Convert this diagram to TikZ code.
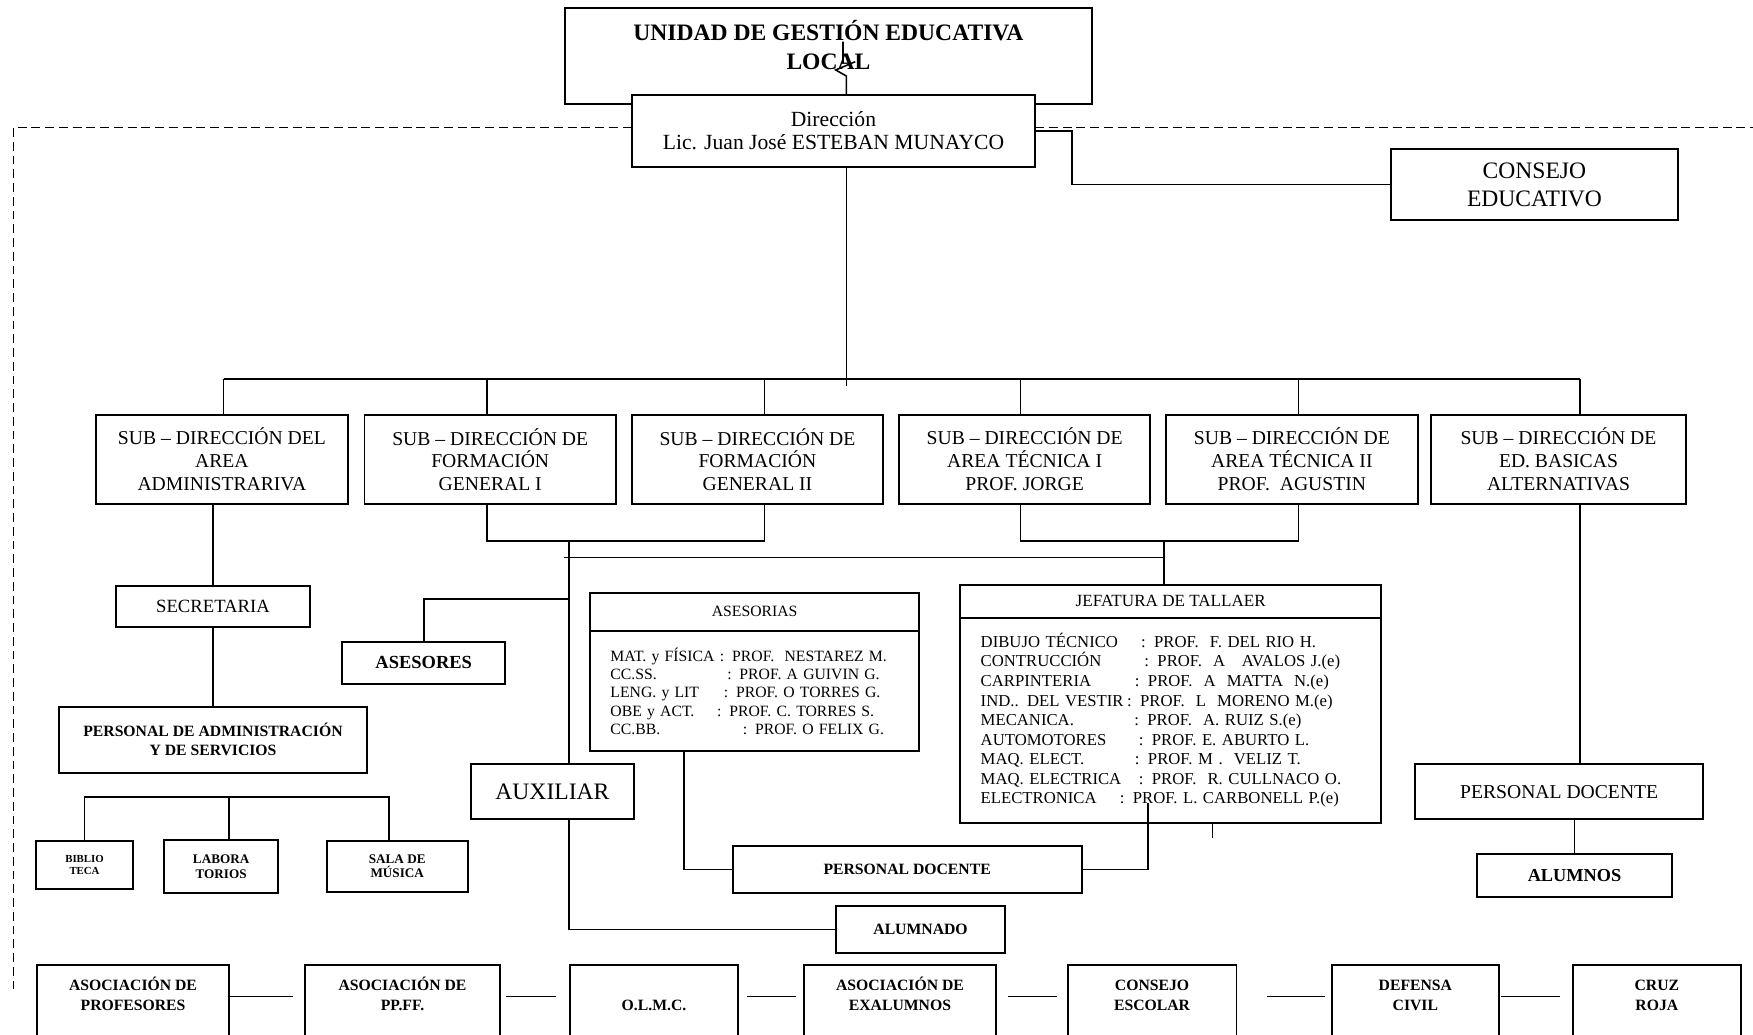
\documentclass[tikz,border=0pt]{standalone}
\usepackage{fontspec}
\setmainfont{Liberation Serif}
\usetikzlibrary{positioning}

\begin{document}
\begin{tikzpicture}[x=0.02cm, y=-0.02cm,
    box/.style ={rectangle, draw=black, line width=1pt, fill=white,
      align=center, inner sep=1pt, outer sep=0pt},
    block_sub/.style ={box, minimum width=4.5cm, minimum height=1.6cm,
      font=\fontsize{10}{11.6}\selectfont},
    block_bold/.style ={box, font=\bfseries\fontsize{8}{9.6}\selectfont},
    block_head/.style ={box, font=\fontsize{8}{9.3}\selectfont},
    block_list/.style ={box, align=left, inner xsep=0.36cm},
    block_base/.style ={rectangle, draw=black, line width=1pt, anchor=north,
      align=center, inner ysep=0pt, outer sep=0pt, text height=0.82cm,
      text depth=2cm, font=\bfseries\fontsize{8}{10.2}\selectfont},
    line/.style ={draw, line width=0.8pt},
    frame/.style ={draw, line width=0.6pt, dash pattern=on 4.5pt off 2.5pt}]

    \useasboundingbox (0,0) rectangle (1568,925);
    \clip (0,0) rectangle (1568,925);

    % Place nodes: top of the chart
    \node [box, anchor=north, minimum width=9.44cm, inner ysep=0pt,
      text height=1.11cm, text depth=0.61cm,
      font=\bfseries\fontsize{12}{14.9}\selectfont] (ugel) at (741,7)
      {UNIDAD DE GESTIÓN EDUCATIVA\\LOCAL};
    \node [box, minimum width=7.22cm, minimum height=1.28cm,
      font=\fontsize{11}{11.85}\selectfont] (dir) at (745.5,117)
      {Dirección\\Lic. Juan José ESTEBAN MUNAYCO};
    \node [box, minimum width=5.14cm, minimum height=1.28cm,
      font=\fontsize{12}{14.2}\selectfont] (consejo) at (1372.5,165)
      {CONSEJO\\EDUCATIVO};

    % the six sub-direcciones
    \node [block_sub] (sa) at (198.5,411) {SUB – DIRECCIÓN DEL\\AREA\\ADMINISTRARIVA};
    \node [block_sub] (sf1) at (438.5,411) {SUB – DIRECCIÓN DE\\FORMACIÓN\\GENERAL I};
    \node [block_sub] (sf2) at (677.5,411) {SUB – DIRECCIÓN DE\\FORMACIÓN\\GENERAL II};
    \node [block_sub] (st1) at (916.5,411) {SUB – DIRECCIÓN DE\\AREA TÉCNICA I\\PROF. JORGE};
    \node [block_sub] (st2) at (1155.5,411) {SUB – DIRECCIÓN DE\\AREA TÉCNICA II\\PROF.\ \ AGUSTIN};
    \node [block_sub, minimum width=4.56cm] (sb) at (1394,411) {SUB – DIRECCIÓN DE\\ED. BASICAS\\ALTERNATIVAS};

    % administrative column
    \node [box, minimum width=3.46cm, minimum height=0.74cm,
      font=\fontsize{9.5}{11}\selectfont] (secr) at (190.5,542.5) {SECRETARIA};
    \node [block_bold, minimum width=5.5cm, minimum height=1.18cm] (pda) at (190.5,661.5)
      {PERSONAL DE ADMINISTRACIÓN\\Y DE SERVICIOS};
    \node [block_bold, minimum width=1.75cm, minimum height=0.86cm,
      font=\bfseries\fontsize{5.5}{6.2}\selectfont] (biblio) at (75.6,773.5) {BIBLIO\\TECA};
    \node [block_bold, minimum width=2.03cm, minimum height=0.95cm,
      font=\bfseries\fontsize{6.7}{7.8}\selectfont] (labora) at (197.8,775.2) {LABORA\\TORIOS};
    \node [block_bold, minimum width=2.53cm, minimum height=0.92cm,
      font=\bfseries\fontsize{6.7}{7.1}\selectfont] (sala) at (355.3,775) {SALA DE\\MÚSICA};
    \node [block_bold, minimum width=2.92cm, minimum height=0.76cm,
      font=\bfseries\fontsize{9.4}{11}\selectfont] (asesores) at (379,593) {ASESORES};

    % asesorias and jefatura
    \node [block_head, anchor=north, minimum width=5.88cm, minimum height=0.69cm] (asorH) at (675,530) {ASESORIAS};
    \node [block_list, below=0pt of asorH, minimum height=2.15cm, text width=5.16cm,
      font=\fontsize{8}{9.3}\selectfont] (asorB)
      {\makebox[1.96cm][l]{MAT. y FÍSICA}: PROF.\ \ NESTAREZ M.\\
       \makebox[2.09cm][l]{CC.SS.}: PROF. A GUIVIN G.\\
       \makebox[2.03cm][l]{LENG. y LIT}: PROF. O TORRES G.\\
       \makebox[1.91cm][l]{OBE y ACT.}: PROF. C. TORRES S.\\
       \makebox[2.37cm][l]{CC.BB.}: PROF. O FELIX G.};
    \node [block_head, anchor=north, minimum width=7.54cm, minimum height=0.584cm,
      font=\fontsize{8.7}{10}\selectfont] (jefH) at (1047.2,523.3) {JEFATURA DE TALLAER};
    \node [block_list, below=0pt of jefH, minimum height=3.67cm, text width=6.8cm,
      inner xsep=0.37cm, font=\fontsize{8.5}{9.96}\selectfont] (jefB)
      {\makebox[2.87cm][l]{DIBUJO TÉCNICO}: PROF.\ \ F. DEL RIO H.\\
       \makebox[2.93cm][l]{CONTRUCCIÓN}: PROF.\ \ A\ \ \ AVALOS J.(e)\\
       \makebox[2.76cm][l]{CARPINTERIA}: PROF.\ \ A\ \ MATTA\ \ N.(e)\\
       \makebox[2.62cm][l]{IND.. DEL VESTIR}: PROF.\ \ L\ \ MORENO M.(e)\\
       \makebox[2.75cm][l]{MECANICA.}: PROF.\ \ A. RUIZ S.(e)\\
       \makebox[2.83cm][l]{AUTOMOTORES}: PROF. E. ABURTO L.\\
       \makebox[2.76cm][l]{MAQ. ELECT.}: PROF. M .\ \ VELIZ T.\\
       \makebox[2.83cm][l]{MAQ. ELECTRICA}: PROF.\ \ R. CULLNACO O.\\
       \makebox[2.49cm][l]{ELECTRONICA}: PROF. L. CARBONELL P.(e)};

    % staff and students
    \node [box, minimum width=2.93cm, minimum height=0.98cm,
      font=\fontsize{12}{14}\selectfont] (aux) at (494.1,708.2) {AUXILIAR};
    \node [block_bold, minimum width=6.24cm, minimum height=0.85cm] (pdoc) at (811.4,777.9) {PERSONAL DOCENTE};
    \node [block_bold, minimum width=3.02cm, minimum height=0.85cm] (alum) at (823.4,831.4) {ALUMNADO};
    \node [box, minimum width=5.16cm, minimum height=0.98cm,
      font=\fontsize{10}{12}\selectfont] (pdr) at (1394.6,708.2) {PERSONAL DOCENTE};
    \node [block_bold, minimum width=3.5cm, minimum height=0.77cm,
      font=\bfseries\fontsize{9.3}{11}\selectfont] (alumnos) at (1408.3,783.3) {ALUMNOS};

    % bottom row of organisations
    \node [block_base, minimum width=3.44cm] (b1) at (119,863.2) {ASOCIACIÓN DE\\PROFESORES};
    \node [block_base, minimum width=3.48cm] (b2) at (360,863.2) {ASOCIACIÓN DE\\PP.FF.};
    \node [block_base, minimum width=3.0cm] (b3) at (585,863.2) {O.L.M.C.};
    \node [block_base, minimum width=3.44cm] (b4) at (805,863.2) {ASOCIACIÓN DE\\EXALUMNOS};
    \node [block_base, minimum width=3.02cm] (b5) at (1030.5,863.2) {CONSEJO\\ESCOLAR};
    \node [block_base, minimum width=3.0cm] (b6) at (1266,863.2) {DEFENSA\\CIVIL};
    \node [block_base, minimum width=3.0cm] (b7) at (1482,863.2) {CRUZ\\ROJA};

    % dashed frame round the chart
    \coordinate (dashL) at (12,114);
    \coordinate (dashR) at (1568,114);
    \coordinate (dashB) at (12,885);
    \path [frame] (dashB) -- (dashL) -- (dashL -| dir.west);
    \path [frame] (dashL -| dir.east) -- (dashR);

    % paths from the top
    \path [line] (dir.north -| 757,0) -- (757,68) -- (747.5,62.6) -- (765,55.2)
      (754,56.6) -- (754,37.3);
    \path [line] (dir.east) -- ++(33,0) |- (consejo.west);
    \path [line] (dir.south -| 757,0) -- (757,345);
    \coordinate (busL) at (200,339);
    \coordinate (busR) at (1413.2,339);
    \path [line] (busL) -- (busR);
    \foreach \s/\x in {sa/200, sf1/435.5, sf2/684, st1/912.6, st2/1161.6, sb/1413.2}
      \path [line] (\x,339) -- (\s.north -| \x,339);

    % paths from the first column
    \path [line] (sa.south -| secr.north) -- (secr.north);
    \path [line] (secr.south) -- (pda.north);
    \path [line] (biblio.north) |- (348,713) -- (sala.north -| 348,0);
    \path [line] (labora.north -| 205,0) -- (205,713);

    % paths from the middle columns
    \path [line] (sf1.south -| 435.5,0) |- (684,484) -- (sf2.south -| 684,0);
    \path [line] (st1.south -| 912.6,0) |- (1161.6,484) -- (st2.south -| 1161.6,0);
    \path [line] (509,484) -- (aux.north -| 509,0);
    \path [line] (504.4,498.5) -- (1041,498.5);
    \path [line] (1041,484) -- (jefH.north -| 1041,0);
    \path [line] (asesores.north) |- (509,536);
    \path [line] (asorB.south -| 612,0) |- (pdoc.west);
    \coordinate (jefIn) at (1027,718);
    \path [line] (jefIn) |- (pdoc.east);
    \path [line] (jefB.south -| 1084.4,0) -- ++(0,14);
    \path [line] (aux.south -| 509,0) |- (alum.west);

    % paths from the last column
    \path [line] (sb.south -| 1413.2,0) -- (pdr.north -| 1413.2,0);
    \path [line] (pdr.south -| alumnos.north) -- (alumnos.north);

    % links along the bottom row
    \coordinate (row) at (0,891.5);
    \foreach \a/\b/\s/\e in {b1/b2/0pt/6.2pt, b2/b3/3.4pt/7.4pt, b3/b4/4.5pt/4pt,
        b4/b5/6.2pt/5.7pt, b5/b6/15.3pt/3.4pt, b6/b7/1.1pt/6.8pt}
      \path [line, shorten <=\s, shorten >=\e] (\a.east |- row) -- (\b.west |- row);

\end{tikzpicture}
\end{document}
